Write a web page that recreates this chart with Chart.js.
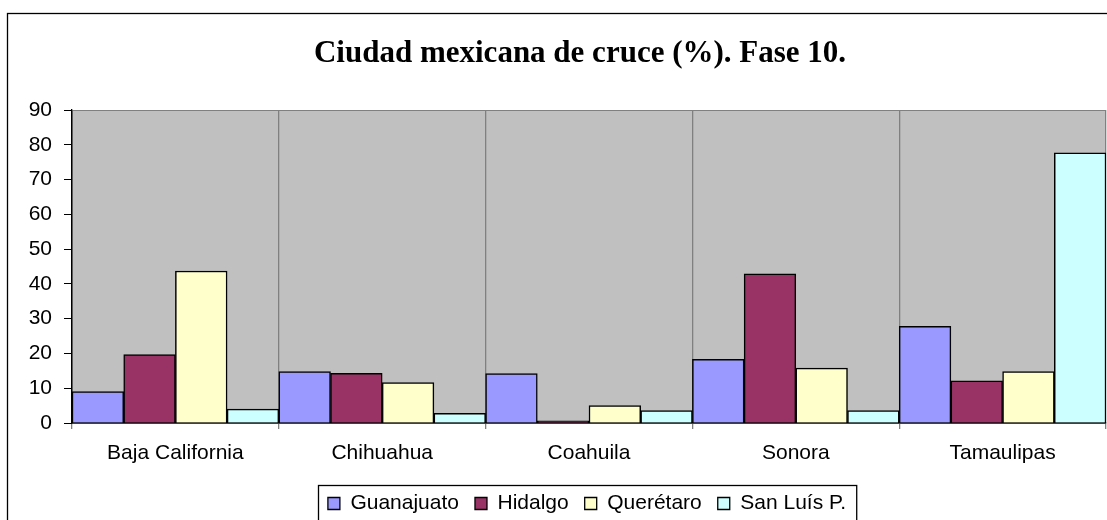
<!DOCTYPE html>
<html>
<head>
<meta charset="utf-8">
<script src="https://cdn.jsdelivr.net/npm/chart.js@4.4.0/dist/chart.umd.min.js"></script>
<style>
  html, body { margin: 0; padding: 0; background: #fff; }
  #wrap { width: 1107px; height: 520px; position: relative; }
</style>
</head>
<body>
<div id="wrap"><canvas id="chart"></canvas></div>
<script>
const TITLE = 'Ciudad mexicana de cruce (%). Fase 10.';
const states = ['Baja California', 'Chihuahua', 'Coahuila', 'Sonora', 'Tamaulipas'];
const guanajuato = [9.0, 14.8, 14.2, 18.3, 27.8];
const hidalgo = [19.7, 14.3, 0.6, 42.9, 12.1];
const queretaro = [43.7, 11.6, 5.0, 15.8, 14.8];
const sanLuis = [4.0, 2.8, 3.6, 3.6, 77.7];
const yTicks = [0, 10, 20, 30, 40, 50, 60, 70, 80, 90];

const SANS = "'Liberation Sans', Arial, sans-serif";
const LEGEND_SHIFT = 34;

// white page, outer frame, grey plot area, title; box round the legend
const framePlugin = {
  id: 'frame',
  afterLayout(chart) {
    // the original legend sits a little right of centre
    const lg = chart.legend;
    if (lg) { lg.left += LEGEND_SHIFT; lg.right += LEGEND_SHIFT; }
  },
  beforeDraw(chart) {
    const { ctx, chartArea: a } = chart;
    ctx.save();
    ctx.fillStyle = '#fff';
    ctx.fillRect(0, 0, chart.width, chart.height);
    ctx.strokeStyle = '#000';
    ctx.lineWidth = 1.3;
    ctx.strokeRect(7.5, 13.5, 1300, 700);
    ctx.fillStyle = '#c0c0c0';
    ctx.fillRect(a.left, a.top, a.right - a.left, a.bottom - a.top);
    ctx.strokeStyle = '#808080';
    ctx.lineWidth = 1;
    ctx.strokeRect(a.left + 0.5, a.top + 0.5, a.right - a.left - 1, a.bottom - a.top);
    ctx.fillStyle = '#000';
    ctx.font = "bold 31px 'Liberation Serif', 'Times New Roman', serif";
    ctx.textAlign = 'center';
    ctx.textBaseline = 'alphabetic';
    ctx.fillText(TITLE, 580, 62);
    ctx.restore();
  },
  afterDraw(chart) {
    const boxes = chart.legend && chart.legend.legendHitBoxes;
    if (!boxes || !boxes.length) return;
    const left = Math.min(...boxes.map(b => b.left));
    const right = Math.max(...boxes.map(b => b.left + b.width));
    const ctx = chart.ctx;
    ctx.save();
    ctx.strokeStyle = '#000';
    ctx.lineWidth = 1.3;
    ctx.strokeRect(Math.round(left - 10) + 0.5, 485.5, right - left + 20, 60);
    ctx.restore();
  }
};

function dataset(label, data, color) {
  return {
    label, data,
    backgroundColor: color,
    borderColor: '#000',
    borderWidth: 1.5,
    categoryPercentage: 1,
    barPercentage: 1
  };
}

new Chart(document.getElementById('chart'), {
  type: 'bar',
  data: {
    labels: states,
    datasets: [
      dataset('Guanajuato', guanajuato, '#9999ff'),
      dataset('Hidalgo', hidalgo, '#993366'),
      dataset('Querétaro', queretaro, '#ffffcc'),
      dataset('San Luís P.', sanLuis, '#ccffff')
    ]
  },
  options: {
    responsive: true,
    maintainAspectRatio: false,
    animation: false,
    layout: { padding: { top: 110, left: 0, right: 1, bottom: -4 } },
    plugins: {
      title: { display: false },
      tooltip: { enabled: false },
      legend: {
        position: 'bottom',
        labels: {
          color: '#000',
          font: { family: SANS, size: 21 },
          boxWidth: 12,
          boxHeight: 12,
          padding: 16,
          generateLabels(chart) {
            return chart.data.datasets.map((d, i) => ({
              text: d.label,
              fillStyle: d.backgroundColor,
              strokeStyle: '#000',
              lineWidth: 1.3,
              datasetIndex: i
            }));
          }
        }
      }
    },
    scales: {
      x: {
        offset: true,
        grid: { offset: true, color: '#808080', lineWidth: 1.3, tickLength: 6, drawOnChartArea: true },
        border: { color: '#000', width: 1.5 },
        ticks: { color: '#000', font: { family: SANS, size: 21 }, padding: 12, maxRotation: 0 },
        afterFit(scale) { scale.height = 54; }
      },
      y: {
        min: 0,
        max: 90,
        afterBuildTicks(scale) { scale.ticks = yTicks.map(v => ({ value: v })); },
        grid: { drawOnChartArea: false, color: '#000', tickLength: 8 },
        border: { color: '#000', width: 1.3 },
        ticks: { color: '#000', font: { family: SANS, size: 21 }, padding: 12 },
        afterFit(scale) { scale.width = 72; }
      }
    }
  },
  plugins: [framePlugin]
});
</script>
</body>
</html>
